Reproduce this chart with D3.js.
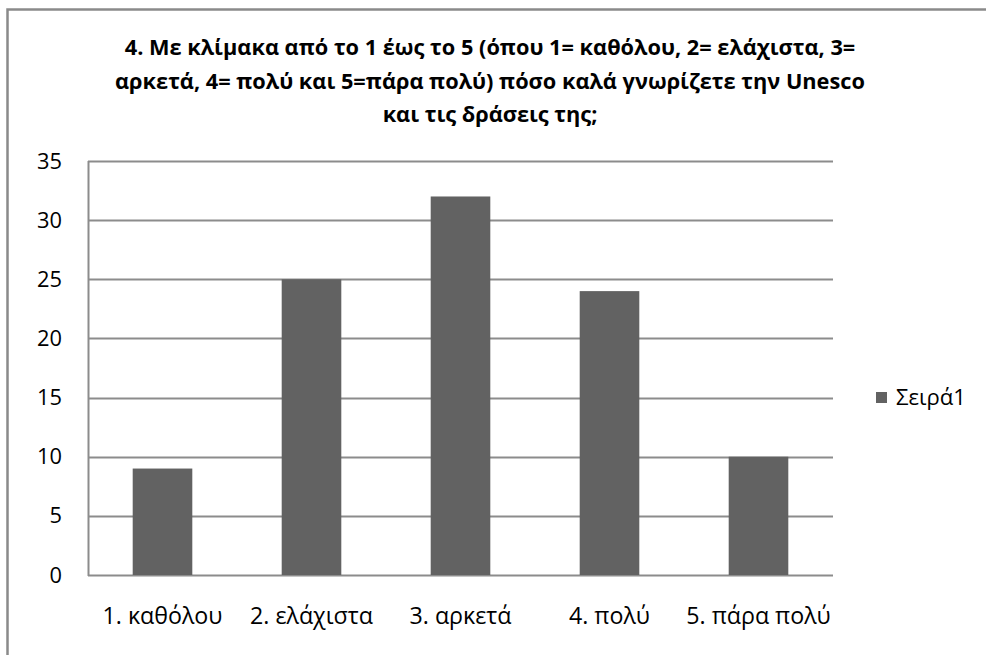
<!DOCTYPE html>
<html><head><meta charset="utf-8">
<script src="https://cdn.jsdelivr.net/npm/d3@7"></script>
<style>body{margin:0;background:#fff}svg{display:block}</style>
</head><body>
<script>
const categories = ["1. καθόλου","2. ελάχιστα","3. αρκετά","4. πολύ","5. πάρα πολύ"];
const values = [9,25,32,24,10];
const yTicks = [0,5,10,15,20,25,30,35];
const seriesName = "Σειρά1";
const titleLines = ["4. Με κλίμακα από το 1 έως το 5 (όπου 1= καθόλου, 2= ελάχιστα, 3=",
  "αρκετά, 4= πολύ και 5=πάρα πολύ) πόσο καλά γνωρίζετε την Unesco",
  "και τις δράσεις της;"];

const W=986,H=655;
const svg=d3.select("body").append("svg").attr("width",W).attr("height",H);
const font="'Open Sans', sans-serif";
svg.append("rect").attr("x",7.5).attr("y",9.5).attr("width",990).attr("height",660)
  .attr("fill","#fff").attr("stroke","#8a8a8a").attr("stroke-width",2.5);

const m={l:88,r:833,t:161,b:575};
const x=d3.scaleBand().domain(categories).range([m.l,m.r]).paddingInner(0.6).paddingOuter(0.3);
const y=d3.scaleLinear().domain([0,35]).range([m.b,m.t]);

function fit(sel, target, base){
  sel.attr("font-size",base);
  const w=sel.node().getComputedTextLength();
  sel.attr("font-size",base*target/w);
}

const g=svg.append("g");
g.selectAll("line.grid").data(yTicks).join("line").attr("class","grid")
  .attr("x1",m.l).attr("x2",m.r).attr("y1",d=>Math.round(y(d))+0.5).attr("y2",d=>Math.round(y(d))+0.5)
  .attr("stroke","#8c8c8c").attr("stroke-width",2);

g.selectAll("rect.bar").data(values).join("rect").attr("class","bar")
  .attr("x",(d,i)=>x(categories[i])).attr("width",x.bandwidth())
  .attr("y",d=>y(d)).attr("height",d=>y(0)-y(d))
  .attr("fill","#626262");

g.append("line").attr("x1",m.l+0.5).attr("x2",m.l+0.5).attr("y1",m.t).attr("y2",m.b+1)
  .attr("stroke","#8c8c8c").attr("stroke-width",2);

const yAxis=d3.axisLeft(y).tickValues(yTicks).tickSize(0).tickPadding(26);
const ya=svg.append("g").attr("transform",`translate(${m.l},0)`).call(yAxis);
ya.select(".domain").remove();
const yt=ya.selectAll("text").attr("font-family",font).attr("fill","#000");
const y35=ya.selectAll(".tick text").filter(d=>d===35);
fit(y35, 25, 18);
yt.attr("font-size", y35.attr("font-size"));

const xAxis=d3.axisBottom(x).tickSize(0).tickPadding(33);
const xa=svg.append("g").attr("transform",`translate(0,${m.b})`).call(xAxis);
xa.select(".domain").remove();
const xt=xa.selectAll("text").attr("font-family",font).attr("fill","#000");
const first=xa.selectAll(".tick text").filter(d=>d===categories[0]);
fit(first,120,18);
xt.attr("font-size", first.attr("font-size"));

const tt=svg.selectAll("text.title").data(titleLines).join("text").attr("class","title")
  .attr("x",490).attr("y",(d,i)=>55+i*33.5).attr("text-anchor","middle")
  .attr("font-family",font).attr("font-weight","bold").attr("fill","#000")
  .text(d=>d);
fit(tt.filter((d,i)=>i===0),731,18);
tt.attr("font-size", tt.filter((d,i)=>i===0).attr("font-size"));

const lg=svg.append("g").attr("transform","translate(876,392)");
lg.append("rect").attr("width",11).attr("height",11).attr("fill","#626262");
const lt=lg.append("text").attr("x",20).attr("y",13).attr("font-family",font).text(seriesName);
fit(lt,70,18);
</script>
</body></html>
